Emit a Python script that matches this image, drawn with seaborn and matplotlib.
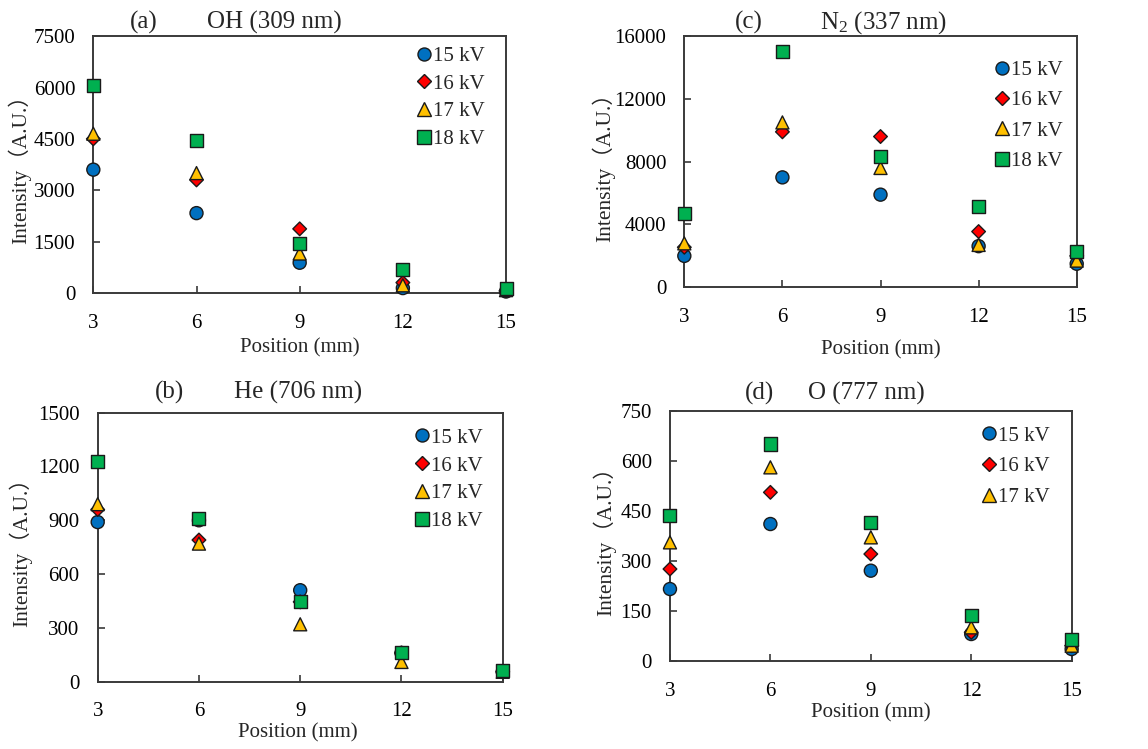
import numpy as np
import pandas as pd
import matplotlib
matplotlib.use("Agg")
import matplotlib.pyplot as plt
from matplotlib.markers import MarkerStyle
from matplotlib.transforms import Affine2D
import seaborn as sns

# ---- data -------------------------------------------------------------
positions = [3, 6, 9, 12, 15]
voltages = ["15 kV", "16 kV", "17 kV", "18 kV"]

oh_15 = [3600, 2330, 880, 140, 40]
oh_16 = [4500, 3300, 1870, 300, 60]
oh_17 = [4650, 3500, 1150, 220, 80]
oh_18 = [6050, 4450, 1450, 670, 130]

n2_15 = [2000, 7000, 5900, 2620, 1500]
n2_16 = [2550, 9900, 9600, 3550, 2000]
n2_17 = [2800, 10500, 7600, 2700, 1700]
n2_18 = [4700, 15000, 8300, 5150, 2300]

he_15 = [890, 900, 510, 160, 55]
he_16 = [960, 790, 445, 160, 55]
he_17 = [990, 770, 320, 110, 55]
he_18 = [1230, 910, 445, 165, 60]

o_15 = [215, 410, 270, 80, 35]
o_16 = [275, 505, 320, 85, 45]
o_17 = [355, 580, 370, 100, 45]
o_18 = [435, 650, 415, 135, 65]

# ---- style ------------------------------------------------------------
sns.set_style("ticks")
plt.rcParams["font.family"] = ["Liberation Serif", "Noto Sans CJK SC"]
plt.rcParams["mathtext.fontset"] = "custom"
plt.rcParams["mathtext.rm"] = "Liberation Serif"
plt.rcParams["mathtext.it"] = "Liberation Serif:italic"

palette = dict(zip(voltages, ["#0070C0", "#FF0000", "#FFC000", "#00B050"]))
markers = dict(zip(voltages, [
    "o",
    MarkerStyle("D", transform=Affine2D().scale(0.74)),
    "^",
    "s",
]))
AXCOL = "#3a3a3a"

fig = plt.figure(figsize=(11.48, 7.49), dpi=100)

panels = [
    dict(series=[oh_15, oh_16, oh_17, oh_18], rect=[0.0813, 0.609, 0.3595, 0.3427],
         ymax=7500, ystep=1500, tag="(a)", name="OH (309 nm)",
         tag_x=0.122, name_x=0.438, title_y=1.03,
         xlab=(0.50, -0.2155), ylab=(-0.178, 0.50),
         leg=(0.781, 0.960), lspace=0.39, nleg=4),
    dict(series=[n2_15, n2_16, n2_17, n2_18], rect=[0.5961, 0.6164, 0.3418, 0.3355],
         ymax=16000, ystep=4000, tag="(c)", name="N$_2$ (337 nm)",
         tag_x=0.164, name_x=0.507, title_y=1.03,
         xlab=(0.502, -0.2495), ylab=(-0.206, 0.50),
         leg=(0.788, 0.902), lspace=0.51, nleg=4),
    dict(series=[he_15, he_16, he_17, he_18], rect=[0.0851, 0.0899, 0.3528, 0.3591],
         ymax=1500, ystep=300, tag="(b)", name="He (706 nm)",
         tag_x=0.177, name_x=0.495, title_y=1.053,
         xlab=(0.495, -0.192), ylab=(-0.190, 0.50),
         leg=(0.779, 0.943), lspace=0.40, nleg=4),
    dict(series=[o_15, o_16, o_17, o_18], rect=[0.5836, 0.1179, 0.3499, 0.3338],
         ymax=750, ystep=150, tag="(d)", name="O (777 nm)",
         tag_x=0.224, name_x=0.49, title_y=1.043,
         xlab=(0.50, -0.21), ylab=(-0.162, 0.50),
         leg=(0.773, 0.939), lspace=0.54, nleg=3),
]

for p in panels:
    ax = fig.add_axes(p["rect"])
    df = pd.DataFrame({
        "Position": positions * len(voltages),
        "Intensity": np.concatenate(p["series"]),
        "Voltage": np.repeat(voltages, len(positions)),
    })
    sns.scatterplot(data=df, x="Position", y="Intensity",
                    hue="Voltage", style="Voltage",
                    hue_order=voltages, style_order=voltages,
                    palette=palette, markers=markers, s=88,
                    edgecolor="#1a1a1a", linewidth=1.0,
                    clip_on=False, zorder=3, legend="full", ax=ax)

    ax.set_xlim(3, 15)
    ax.set_ylim(0, p["ymax"])
    ax.set_xticks(positions)
    ax.set_yticks(np.arange(0, p["ymax"] + 1, p["ystep"]))
    ax.tick_params(direction="in", length=5, width=1.2, color=AXCOL,
                   labelsize=15, labelcolor="black")
    ax.tick_params(axis="x", pad=15)
    ax.tick_params(axis="y", pad=13)
    for sp in ax.spines.values():
        sp.set_visible(True)
        sp.set_color(AXCOL)
        sp.set_linewidth(1.4)

    ax.set_xlabel("Position (mm)", fontsize=15, va="center")
    ax.xaxis.set_label_coords(*p["xlab"])
    ax.set_ylabel("Intensity（A.U.）", fontsize=15.5, va="center")
    ax.yaxis.set_label_coords(*p["ylab"])

    ax.text(p["tag_x"], p["title_y"], p["tag"], transform=ax.transAxes,
            ha="center", va="baseline", fontsize=18)
    ax.text(p["name_x"], p["title_y"], p["name"], transform=ax.transAxes,
            ha="center", va="baseline", fontsize=18)

    old = ax.get_legend()
    handles = [h for h, t in zip(old.legend_handles, old.get_texts())
               if t.get_text() in voltages]
    labels = [t.get_text() for t in old.get_texts() if t.get_text() in voltages]
    old.remove()
    ax.legend(handles[:p["nleg"]], labels[:p["nleg"]],
              loc="upper left", bbox_to_anchor=p["leg"], bbox_transform=ax.transAxes,
              frameon=False, fontsize=15, borderpad=0, borderaxespad=0,
              handlelength=0.8, handletextpad=0.05, labelspacing=p["lspace"])

fig.savefig("out.png", dpi=100)
